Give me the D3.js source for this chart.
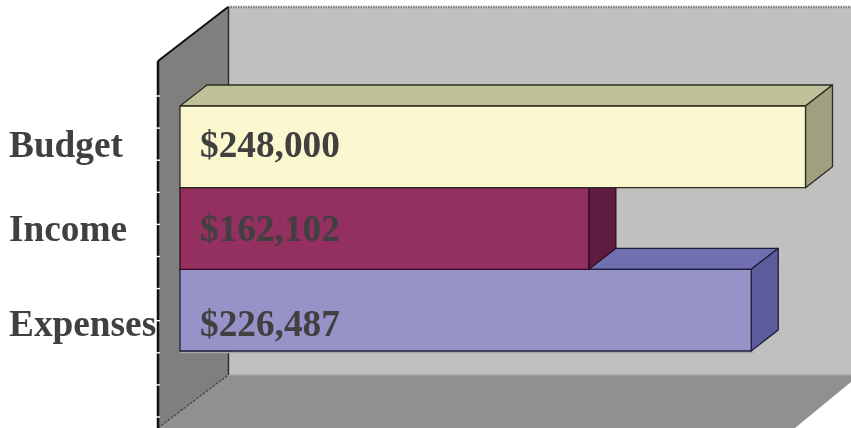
<!DOCTYPE html>
<html>
<head>
<meta charset="utf-8">
<script src="https://cdn.jsdelivr.net/npm/d3@7"></script>
<style>
  html, body { margin: 0; padding: 0; background: #fff; overflow: hidden; }
  svg { display: block; filter: blur(0.5px); }
  text { font-family: "Liberation Serif", serif; font-weight: bold; font-size: 37.3px; fill: #404040; }
</style>
</head>
<body>
<div id="chart"></div>
<script>
'use strict';

// ─── Data ─────────────────────────────────────────────────────────────────────
const categories = ['Budget', 'Income', 'Expenses'];
const values     = [248000, 162102, 226487];

// ─── Layout and colours ───────────────────────────────────────────────────────
const W = 851, H = 428;
const DEPTH_X = 27, DEPTH_Y = 21;   // bar extrusion
const TEXT_NUDGE = { Budget: 10, Income: 12, Expenses: 26 };   // baselines sit unevenly in the source
const FACES = {
  Budget:   { front: '#fbf7ce', top: '#c0c09a', side: '#a0a080', line: '#2c2c20' },
  Income:   { front: '#933060', top: '#702048', side: '#5f1c40', line: '#300c20' },
  Expenses: { front: '#9792c8', top: '#7070b0', side: '#5c5c9c', line: '#1e1e3c' },
};

const x = d3.scaleLinear().domain([0, 248000]).range([180, 805.5]);
const y = d3.scaleBand().domain(categories).range([106, 351]);

const svg = d3.select('#chart').append('svg').attr('width', W).attr('height', H);
const poly = pts => pts.map(p => p.join(',')).join(' ');

// ─── Walls ────────────────────────────────────────────────────────────────────
svg.append('rect').attr('x', 228).attr('y', 7).attr('width', W - 228).attr('height', 368).attr('fill', '#c0c0c0');
svg.append('polygon').attr('points', poly([[228, 375], [851, 375], [851, 382], [795, 428], [158, 428]])).attr('fill', '#909090');
svg.append('polygon').attr('points', poly([[158, 61], [228, 7], [228, 375], [158, 428]])).attr('fill', '#7f7f7d');

svg.append('line').attr('x1', 228).attr('x2', W).attr('y1', 7).attr('y2', 7)
  .attr('stroke', '#808080').attr('stroke-width', 2.5).attr('stroke-dasharray', '1.5 1');
svg.append('line').attr('x1', 228).attr('x2', W).attr('y1', 375).attr('y2', 375).attr('stroke', '#a6a6a6').attr('stroke-width', 1.5);
svg.append('line').attr('x1', 228.5).attr('x2', 228.5).attr('y1', 7).attr('y2', 375).attr('stroke', '#2a2a2a').attr('stroke-width', 1.4);
svg.append('line').attr('x1', 158).attr('y1', 61).attr('x2', 228).attr('y2', 7).attr('stroke', '#111').attr('stroke-width', 2);
svg.append('line').attr('x1', 158).attr('y1', 428).attr('x2', 228).attr('y2', 375)
  .attr('stroke', '#444').attr('stroke-width', 1.2).attr('stroke-dasharray', '3 1');

// left wall edge with its small white ticks
const wallAxis = d3.scaleLinear().domain([0, 10]).range([96, 417]);
svg.append('line').attr('x1', 158).attr('x2', 158).attr('y1', 61).attr('y2', 428).attr('stroke', '#111').attr('stroke-width', 2.5);
svg.append('g').selectAll('line').data(d3.range(0, 11)).join('line')
  .attr('x1', 156).attr('x2', 160)
  .attr('y1', d => wallAxis(d)).attr('y2', d => wallAxis(d))
  .attr('stroke', '#fff').attr('stroke-width', 1.4);

// ─── Bars, drawn back to front ────────────────────────────────────────────────
svg.append('line').attr('x1', x(0)).attr('x2', x(values[2]) + 2).attr('y1', y.range()[1] + 1.5).attr('y2', y.range()[1] + 1.5)
  .attr('stroke', '#a6a6a6').attr('stroke-width', 1.5);

[...categories].reverse().forEach(cat => {
  const v = values[categories.indexOf(cat)];
  const c = FACES[cat];
  const x0 = x(0), x1 = x(v), y0 = y(cat), y1 = y0 + y.bandwidth();
  const g = svg.append('g').attr('stroke', c.line).attr('stroke-width', 1.3).attr('stroke-linejoin', 'round');
  g.append('polygon').attr('fill', c.top)
    .attr('points', poly([[x0, y0], [x0 + DEPTH_X, y0 - DEPTH_Y], [x1 + DEPTH_X, y0 - DEPTH_Y], [x1, y0]]));
  g.append('polygon').attr('fill', c.side)
    .attr('points', poly([[x1, y0], [x1 + DEPTH_X, y0 - DEPTH_Y], [x1 + DEPTH_X, y1 - DEPTH_Y], [x1, y1]]));
  g.append('rect').attr('fill', c.front)
    .attr('x', x0).attr('y', y0).attr('width', x1 - x0).attr('height', y1 - y0);
});

// ─── Labels ───────────────────────────────────────────────────────────────────
const fmt = d3.format('$,');
categories.forEach((cat, i) => {
  const base = y(cat) + y.bandwidth() / 2 + TEXT_NUDGE[cat];
  svg.append('text').attr('x', 9).attr('y', base).text(cat);
  svg.append('text').attr('x', 200).attr('y', base).text(fmt(values[i]));
});
</script>
</body>
</html>
